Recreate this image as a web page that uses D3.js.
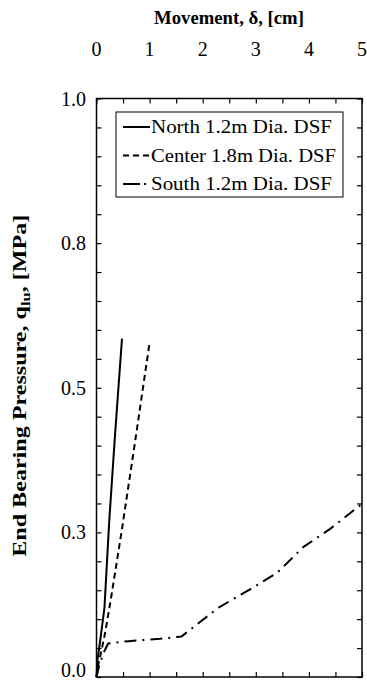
<!DOCTYPE html>
<html><head><meta charset="utf-8">
<script src="https://cdn.jsdelivr.net/npm/d3@7"></script>
<style>html,body{margin:0;padding:0;background:#fff;}svg{display:block;}</style>
</head><body>
<svg id="chart" width="367" height="682"></svg>
<script>
// Data
const seriesNames = ["North 1.2m Dia. DSF", "Center 1.8m Dia. DSF", "South 1.2m Dia. DSF"];
const northX = [0, 0.02, 0.08, 0.15, 0.24, 0.35, 0.48];
const northY = [0, 0.03, 0.07, 0.12, 0.27, 0.42, 0.585];
const centerX = [0, 0.03, 0.08, 0.17, 0.28, 0.47, 0.7, 1.0];
const centerY = [0, 0.02, 0.04, 0.08, 0.14, 0.25, 0.39, 0.578];
const southX = [0, 0.05, 0.15, 0.22, 0.6, 1.2, 1.6, 2.3, 2.9, 3.4, 3.9, 4.4, 5.05];
const southY = [0, 0.02, 0.045, 0.058, 0.062, 0.066, 0.07, 0.12, 0.152, 0.18, 0.225, 0.256, 0.303];
const xTicks = [0, 1, 2, 3, 4, 5];
const xMinor = [0,0.5,1,1.5,2,2.5,3,3.5,4,4.5,5];
const yTickVals = [0, 0.25, 0.5, 0.75, 1.0];
const yTickLabels = ["0.0", "0.3", "0.5", "0.8", "1.0"];
const yMinor = d3.range(0, 1.0001, 0.05);

const svg = d3.select("#chart");
const L = 96.5, R = 362, T = 98.5, B = 677;
const x = d3.scaleLinear().domain([0, 5]).range([L, R]);
const y = d3.scaleLinear().domain([0, 1]).range([B, T]);
const font = "'Liberation Serif','Times New Roman',Times,serif";

// Axes (ticks inward)
const tl = 5;
svg.append("g").attr("transform", `translate(0,${T})`)
  .call(d3.axisTop(x).tickValues(xMinor).tickSize(-tl).tickFormat(""))
  .call(g => g.select(".domain").remove());
svg.append("g").attr("transform", `translate(0,${B})`)
  .call(d3.axisBottom(x).tickValues(xMinor).tickSize(-tl).tickFormat(""))
  .call(g => g.select(".domain").remove());
svg.append("g").attr("transform", `translate(${L},0)`)
  .call(d3.axisLeft(y).tickValues(yMinor).tickSize(-tl).tickFormat(""))
  .call(g => g.select(".domain").remove());
svg.append("g").attr("transform", `translate(${R},0)`)
  .call(d3.axisRight(y).tickValues(yMinor).tickSize(-tl).tickFormat(""))
  .call(g => g.select(".domain").remove());
svg.selectAll(".tick line").attr("stroke", "#000").attr("stroke-width", 1.2);

svg.append("rect").attr("x", L).attr("y", T).attr("width", R - L).attr("height", B - T)
  .attr("fill", "none").attr("stroke", "#000").attr("stroke-width", 1.5);

// Tick labels
svg.append("g").selectAll("text").data(xTicks).join("text")
  .attr("x", d => x(d)).attr("y", 56).attr("text-anchor", "middle")
  .attr("font-family", font).attr("font-size", 20).text(d => d);
svg.append("g").selectAll("text").data(yTickVals).join("text")
  .attr("x", 86).attr("y", d => Math.min(y(d) + 7, 677)).attr("text-anchor", "end")
  .attr("font-family", font).attr("font-size", 20).text((d, i) => yTickLabels[i]);

// Titles
svg.append("text").attr("x", 229).attr("y", 24).attr("text-anchor", "middle")
  .attr("font-family", font).attr("font-size", 18.7).attr("font-weight", "bold")
  .text("Movement, δ, [cm]");
const yt = svg.append("text").attr("transform", `translate(26,${(T + B) / 2 - 2}) rotate(-90)`)
  .attr("text-anchor", "middle").attr("font-family", font).attr("font-size", 19).attr("font-weight", "bold")
  .attr("textLength", 342).attr("lengthAdjust", "spacingAndGlyphs");
yt.append("tspan").text("End Bearing Pressure, q");
yt.append("tspan").attr("font-size", 13).attr("dy", 4).text("lu");
yt.append("tspan").attr("dy", -4).text(", [MPa]");

// Lines
const styles = [
  { dash: null, w: 2 },
  { dash: "6,4", w: 2 },
  { dash: "12,6,2,6", w: 2 }
];
const data = [
  northX.map((d, i) => [d, northY[i]]),
  centerX.map((d, i) => [d, centerY[i]]),
  southX.map((d, i) => [d, southY[i]])
];
const line = d3.line().x(d => x(d[0])).y(d => y(d[1]));
data.forEach((s, i) => {
  svg.append("path").datum(s).attr("d", line).attr("fill", "none")
    .attr("stroke", "#000").attr("stroke-width", styles[i].w)
    .attr("stroke-dasharray", styles[i].dash);
});

// Legend
const lg = svg.append("g");
lg.append("rect").attr("x", 116).attr("y", 112).attr("width", 227).attr("height", 85)
  .attr("fill", "#fff").attr("stroke", "#000").attr("stroke-width", 1);
seriesNames.forEach((n, i) => {
  const yy = 127 + i * 28.5;
  lg.append("line").attr("x1", 123).attr("x2", 150).attr("y1", yy).attr("y2", yy)
    .attr("stroke", "#000").attr("stroke-width", 2)
    .attr("stroke-dasharray", i === 1 ? "6,4" : (i === 2 ? "17,4,2,6" : null));
  lg.append("text").attr("x", 151).attr("y", yy + 6).attr("font-family", font)
    .attr("font-size", 19).attr("textLength", i === 1 ? 185 : 181).attr("lengthAdjust", "spacingAndGlyphs").text(n);
});
</script>
</body></html>
